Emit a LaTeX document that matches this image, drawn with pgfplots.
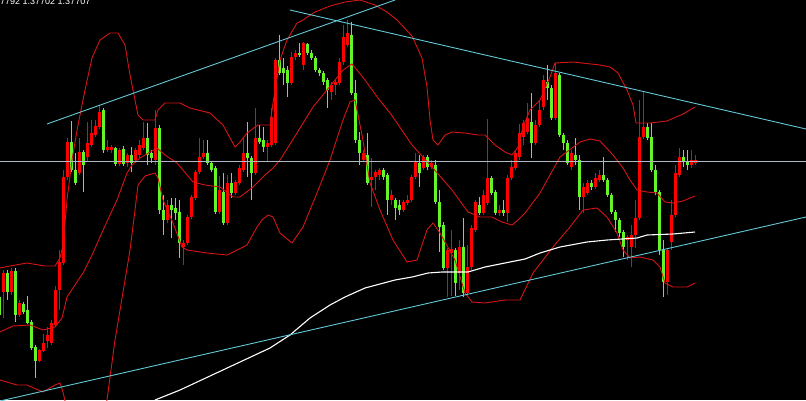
\documentclass[border=0pt]{standalone}
\usepackage{pgfplots}
\pgfplotsset{compat=1.18}
\usepackage{pgfplotstable}
\usepackage{fontspec}
\setmainfont{Liberation Sans}
\definecolor{cred}{RGB}{255,0,0}
\definecolor{cgreen}{RGB}{100,245,40}
\definecolor{bandred}{RGB}{215,20,20}
\definecolor{tline}{RGB}{100,200,215}
\definecolor{hline}{RGB}{175,185,195}

% screen-pixel OHLC: o=open, h=high (top), l=low (bottom), c=close
\pgfplotstableread{
x o h l c
-1 297 290 320 315
3 292 270 318 273
7 273 270 300 292
11 292 268 295 271
15 271 268 322 315
19 315 300 317 303
23 304 302 314 312
27 310 296 324 323
31 322 320 350 348
35 347 345 378 361
39 361 349 362 350
43 351 334 352 343
47 341 327 348 335
51 343 320 345 323
55 325 286 327 290
59 290 250 310 262
63 263 170 265 177
67 177 138 180 142
71 142 121 172 170
75 170 153 185 183
79 173 138 175 152
83 152 150 192 165
87 157 122 162 143
91 145 120 147 133
95 135 120 137 126
99 127 105 129 112
103 110 108 153 150
107 150 140 152 147
111 150 145 153 147
115 148 147 166 164
119 164 148 166 150
123 149 146 166 164
127 163 153 167 155
131 155 147 172 163
135 160 148 163 150
139 155 140 158 145
143 148 122 150 138
147 138 123 165 155
151 153 150 163 158
155 160 110 165 128
159 128 125 214 210
163 210 195 235 220
167 220 200 223 205
171 205 198 238 210
175 208 198 220 213
179 212 200 258 243
183 247 240 265 243
187 243 215 245 217
191 217 195 219 197
195 198 170 200 172
199 172 138 174 157
203 157 140 159 153
207 153 140 165 163
211 163 161 172 170
215 168 166 214 212
219 212 176 214 190
223 192 173 225 223
227 223 175 225 183
231 183 173 198 193
235 193 180 195 182
239 183 165 185 168
243 170 138 172 153
247 153 122 177 158
251 158 156 200 173
255 173 108 175 138
259 138 125 144 142
263 140 127 152 147
267 147 140 162 143
271 145 108 147 117
275 143 58 145 60
279 60 35 75 73
283 68 58 85 73
287 70 66 97 83
291 83 52 85 57
295 57 50 60 53
299 53 43 57 55
303 65 42 70 43
307 44 43 55 53
311 53 50 60 58
315 58 56 72 70
319 70 68 76 73
323 73 71 85 82
327 80 78 108 90
331 92 82 100 85
335 85 80 95 82
339 83 58 85 62
343 62 25 65 37
347 45 20 47 33
351 35 22 95 93
355 93 80 143 140
359 140 132 165 153
363 160 150 162 153
367 155 133 185 183
371 180 158 207 177
375 177 170 190 172
379 175 168 180 170
383 170 168 180 177
387 175 173 215 200
391 200 190 205 195
395 200 198 220 208
399 205 200 215 210
403 210 200 212 202
407 203 195 205 200
411 200 175 202 177
415 177 153 179 162
419 163 155 187 173
423 168 155 170 157
427 157 155 170 167
431 167 160 169 163
435 165 160 204 202
439 202 190 252 227
443 225 222 270 268
447 268 248 297 250
451 253 230 296 249
455 250 248 296 283
459 273 240 290 247
463 247 218 297 293
467 293 245 296 267
471 267 225 270 228
475 230 200 232 202
479 205 197 215 213
483 213 190 215 195
487 203 119 205 178
491 178 176 195 193
495 192 190 215 213
499 213 205 216 210
503 210 200 216 213
507 213 175 222 178
511 178 160 180 167
515 168 150 170 153
519 157 124 160 133
523 137 120 145 123
527 132 103 134 118
531 122 93 158 143
535 143 120 145 125
539 125 100 127 110
543 107 75 110 80
547 82 65 100 88
551 88 85 120 118
555 118 63 120 73
559 75 73 137 135
563 135 133 150 143
567 143 140 165 163
571 167 150 170 153
575 155 138 165 160
579 160 155 210 197
583 197 183 213 187
587 193 180 195 183
591 183 180 190 187
595 187 173 189 178
599 180 170 182 175
603 175 157 182 180
607 180 178 197 195
611 195 193 214 212
615 212 210 232 220
619 220 218 237 233
623 232 230 257 247
627 240 235 260 237
631 247 225 267 235
635 235 200 248 218
639 218 100 220 137
643 137 92 139 127
647 127 123 140 138
651 137 123 172 170
655 170 165 195 192
659 192 190 255 250
663 250 240 297 282
667 282 248 295 250
671 242 200 250 215
675 215 165 217 173
679 175 148 177 157
683 157 150 167 162
687 162 150 170 165
691 165 150 168 160
695 163 155 165 160
}\candles

\begin{document}
\begin{tikzpicture}
\useasboundingbox (0,0) rectangle (806pt,400pt);
\clip (0,0) rectangle (806pt,400pt);
\fill[black] (0,0) rectangle (806pt,400pt);
\begin{axis}[at={(0pt,0pt)}, anchor=south west,
  width=806pt, height=400pt, scale only axis,
  xmin=0, xmax=806, ymin=0, ymax=400, y dir=reverse,
  hide axis, clip=true]

% wicks
\addplot[draw=none, mark=none, forget plot,
  x filter/.expression={\thisrow{c}<\thisrow{o} ? x : nan},
  error bars/.cd, y dir=both, y explicit, error mark=none,
  error bar style={draw=cred, line width=1pt}]
  table[x=x, y expr={(\thisrow{h}+\thisrow{l})/2}, y error expr={(\thisrow{l}-\thisrow{h})/2}] {\candles};
\addplot[draw=none, mark=none, forget plot,
  x filter/.expression={\thisrow{c}<\thisrow{o} ? nan : x},
  error bars/.cd, y dir=both, y explicit, error mark=none,
  error bar style={draw=cgreen, line width=1pt}]
  table[x=x, y expr={(\thisrow{h}+\thisrow{l})/2}, y error expr={(\thisrow{l}-\thisrow{h})/2}] {\candles};
% bodies
\addplot[draw=none, mark=none, forget plot,
  x filter/.expression={\thisrow{c}<\thisrow{o} ? x : nan},
  error bars/.cd, y dir=both, y explicit, error mark=none,
  error bar style={draw=cred, line width=3pt}]
  table[x=x, y expr={(\thisrow{o}+\thisrow{c})/2}, y error expr={max(abs(\thisrow{o}-\thisrow{c})/2,0.6)}] {\candles};
\addplot[draw=none, mark=none, forget plot,
  x filter/.expression={\thisrow{c}<\thisrow{o} ? nan : x},
  error bars/.cd, y dir=both, y explicit, error mark=none,
  error bar style={draw=cgreen, line width=3pt}]
  table[x=x, y expr={(\thisrow{o}+\thisrow{c})/2}, y error expr={max(abs(\thisrow{o}-\thisrow{c})/2,0.6)}] {\candles};

% Bollinger upper
\addplot[bandred, line width=0.9pt, mark=none] coordinates {
(0,268)(10,266)(27,263)(45,266)(55,266)(60,258)(63,245)(67,200)(72,160)(78,125)(85,90)(92,58)(100,40)(110,33)(118,33)(125,45)(130,75)(134,95)(138,115)(143,120)(155,120)(158,110)(165,103)(180,103)(190,108)(210,113)(223,125)(235,147)(240,142)(247,133)(258,125)(270,125)(273,103)(280,60)(287,40)(297,23)(303,20)(315,12)(330,6)(345,2)(360,0)(375,5)(387,12)(397,20)(412,36)(422,58)(427,87)(430,120)(433,140)(438,145)(445,135)(452,132)(465,133)(478,135)(485,135)(495,145)(505,152)(512,155)(518,147)(523,127)(530,110)(540,100)(550,77)(555,63)(573,62)(600,65)(610,67)(618,73)(627,90)(633,105)(636,123)(650,123)(667,121)(683,114)(695,107)};
% Bollinger middle
\addplot[bandred, line width=0.9pt, mark=none] coordinates {
(0,332)(13,326)(30,325)(43,330)(55,327)(62,318)(67,297)(75,285)(83,273)(92,255)(100,237)(110,215)(117,200)(127,173)(132,165)(140,158)(157,148)(165,155)(177,163)(193,182)(205,185)(220,187)(233,197)(240,197)(253,187)(265,175)(273,168)(280,160)(297,133)(313,107)(327,90)(343,70)(352,64)(365,80)(378,98)(390,113)(395,120)(412,145)(432,167)(452,190)(468,212)(480,217)(492,217)(502,222)(512,225)(518,220)(525,213)(540,193)(560,157)(580,142)(590,139)(600,141)(613,155)(623,168)(630,180)(637,190)(647,192)(657,193)(665,202)(673,203)(683,201)(695,196)};
% Bollinger lower
\addplot[bandred, line width=0.9pt, mark=none] coordinates {
(0,380)(17,385)(27,385)(43,392)(55,385)(60,383)(63,392)(66,405)(75,430)(90,445)(100,430)(107,400)(115,340)(125,280)(130,250)(135,210)(138,185)(145,176)(155,173)(158,178)(163,200)(173,223)(182,247)(187,250)(207,253)(227,255)(247,245)(257,227)(262,220)(268,215)(273,217)(280,233)(292,243)(303,227)(317,193)(330,160)(343,120)(350,102)(355,100)(362,135)(370,183)(380,210)(393,240)(407,262)(417,260)(427,230)(433,223)(440,233)(455,260)(465,293)(472,302)(485,303)(505,300)(520,300)(533,273)(553,247)(570,227)(583,210)(597,208)(607,217)(617,233)(623,250)(630,258)(640,257)(653,260)(660,267)(665,283)(673,287)(687,287)(695,283)};
% moving average (white)
\addplot[white, line width=1.1pt, mark=none] coordinates {
(155,400)(180,390)(210,376)(240,362)(270,348)(290,335)(310,318)(330,305)(345,297)(365,288)(395,280)(412,277)(428,273)(442,272)(468,272)(485,267)(505,263)(525,259)(540,253)(560,247)(587,242)(607,240)(637,238)(647,235)(673,234)(695,232)};

% horizontal level and trend lines
\addplot[hline, line width=0.9pt, mark=none] coordinates {(0,161)(806,161)};
\addplot[tline, line width=0.9pt, mark=none] coordinates {(47,124)(395,0)};
\addplot[tline, line width=0.9pt, mark=none] coordinates {(290,10)(806,129)};
\addplot[tline, line width=0.9pt, mark=none] coordinates {(0,401)(806,217)};

\node[anchor=base west, text=white, inner sep=0pt, font=\fontsize{9}{10}\selectfont] at (axis cs:0,4) {7792 1.37702 1.37707};
\end{axis}
\end{tikzpicture}
\end{document}
